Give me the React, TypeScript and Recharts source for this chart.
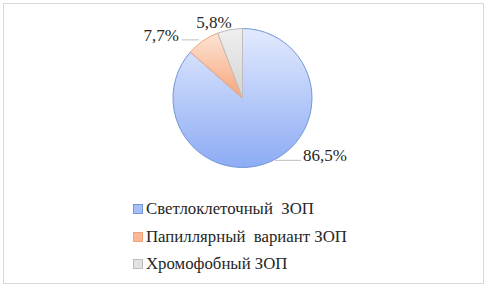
import { PieChart, Pie, Cell, Legend } from 'recharts';

const categories = ['Светлоклеточный  ЗОП', 'Папиллярный  вариант ЗОП', 'Хромофобный ЗОП'];
const shares = [86.5, 7.7, 5.8];
const shareLabels = ['86,5%', '7,7%', '5,8%'];

const palette = [
  { top: '#e2eafd', bottom: '#8dacf4', stroke: '#7396d9', mark: '#a6bff6' },
  { top: '#fde4d5', bottom: '#f7a57a', stroke: '#f4a47c', mark: '#f9b896' },
  { top: '#efefef', bottom: '#d4d4d4', stroke: '#bdbdbd', mark: '#e2e2e2' },
];

// label text offset from the slice's outer edge point (baseline), plus leader line trims
const labelPlacement = [
  { dx: 32, dy: 0, anchor: 'start', line: true, lineStart: 4, lineEnd: -2 },
  { dx: -24, dy: 0, anchor: 'end', line: true, lineStart: -4, lineEnd: 3 },
  { dx: -16, dy: -2, anchor: 'middle', line: false, lineStart: 0, lineEnd: 0 },
];

const FONT = "'Liberation Serif', 'Times New Roman', Tinos, serif";
const RAD = Math.PI / 180;

const chartData = categories.map((name, i) => ({ name, value: shares[i], label: shareLabels[i] }));

const renderLabel = (props: any) => {
  const { cx, cy, midAngle, outerRadius, index } = props;
  const ex = cx + outerRadius * Math.cos(-midAngle * RAD);
  const ey = cy + outerRadius * Math.sin(-midAngle * RAD);
  const p = labelPlacement[index];
  const tx = ex + p.dx;
  const baseline = ey + p.dy;
  return (
    <g key={`lbl-${index}`}>
      {p.line && (
        <line x1={ex + p.lineStart} y1={ey - 1} x2={tx + p.lineEnd} y2={baseline - 1} stroke="#bfbfbf" strokeWidth={1} />
      )}
      <text x={tx} y={baseline} textAnchor={p.anchor} style={{ fontFamily: FONT }} fontSize={17} fill="#262626">
        {chartData[index].label}
      </text>
    </g>
  );
};

const renderLegend = () => (
  <div style={{ fontFamily: FONT, fontSize: 16.8, color: '#262626' }}>
    {chartData.map((d, i) => (
      <div key={d.name} style={{ display: 'flex', alignItems: 'center', height: 27.7, whiteSpace: 'pre' }}>
        <span
          style={{
            display: 'inline-block',
            width: 8,
            height: 8,
            background: palette[i].mark,
            border: `1px solid ${palette[i].stroke}`,
            marginRight: 3,
          }}
        />
        <span>{d.name}</span>
      </div>
    ))}
  </div>
);

export default function App() {
  return (
    <div style={{ position: 'absolute', left: 0, top: 0, width: 489, height: 289, background: '#fff', fontFamily: FONT }}>
      <div
        style={{
          position: 'absolute',
          left: 3,
          top: 3,
          width: 479,
          height: 279,
          border: '1px solid #d9d9d9',
        }}
      />
      <div style={{ position: 'absolute', left: 0, top: 0 }}>
        <PieChart width={489} height={289} margin={{ top: 0, right: 0, bottom: 0, left: 0 }}>
          <defs>
            {palette.map((c, i) => (
              <linearGradient key={i} id={`grad-${i}`} x1="0" y1="0" x2="0" y2="1">
                <stop offset="0%" stopColor={c.top} />
                <stop offset="100%" stopColor={c.bottom} />
              </linearGradient>
            ))}
          </defs>
          <Pie
            data={chartData}
            dataKey="value"
            nameKey="name"
            cx={242.5}
            cy={98}
            outerRadius={69.5}
            startAngle={90}
            endAngle={-270}
            label={renderLabel}
            labelLine={false}
            isAnimationActive={false}
          >
            {chartData.map((d, i) => (
              <Cell key={d.name} fill={`url(#grad-${i})`} stroke={palette[i].stroke} strokeWidth={1} />
            ))}
          </Pie>
          <Legend
            content={renderLegend}
            wrapperStyle={{ position: 'absolute', left: 133, top: 195, width: 280 }}
          />
        </PieChart>
      </div>
    </div>
  );
}
